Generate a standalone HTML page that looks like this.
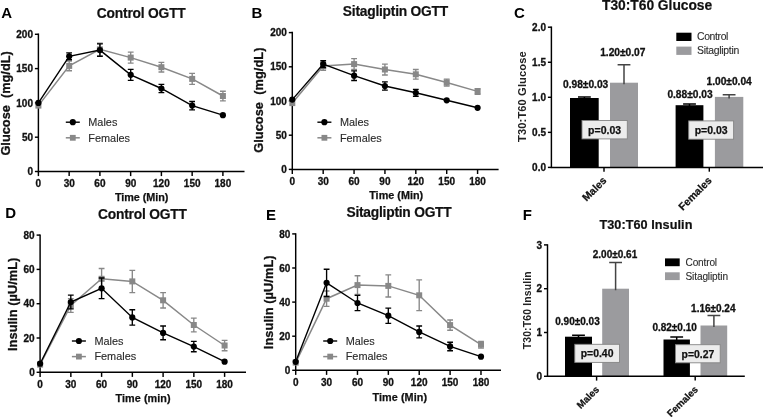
<!DOCTYPE html>
<html><head><meta charset="utf-8"><title>Figure</title>
<style>
html,body{margin:0;padding:0;background:#fff;}
body{width:763px;height:417px;overflow:hidden;}
svg{display:block;will-change:transform;}
text{font-family:"Liberation Sans",sans-serif;fill:#111;}
.tk{font-size:10px;font-weight:bold;stroke:#111;stroke-width:0.3px;}
.xk{font-size:10.2px;font-weight:bold;stroke:#111;stroke-width:0.25px;}
.lg{font-size:10.9px;fill:#2a2a2a;stroke:#2a2a2a;stroke-width:0.12px;}
.lg2{font-size:10.4px;fill:#2a2a2a;stroke:#2a2a2a;stroke-width:0.1px;}
.tt{font-size:13.8px;font-weight:bold;stroke:#111;stroke-width:0.2px;}
.lt{font-size:15px;font-weight:bold;fill:#000;}
.ax{font-size:10.8px;font-weight:bold;stroke:#111;stroke-width:0.25px;}
.ay{font-size:12.8px;font-weight:bold;white-space:pre;stroke:#111;stroke-width:0.3px;}
.ay2{font-size:10.6px;font-weight:bold;fill:#222;}
.vl{font-size:10.2px;font-weight:bold;stroke:#111;stroke-width:0.3px;}
.pv{font-size:10.5px;font-weight:bold;stroke:#111;stroke-width:0.25px;}
</style></head><body>
<svg width="763" height="417" viewBox="0 0 763 417">
<rect width="763" height="417" fill="#fff"/>
<g id="pA"><path d="M38.4 33.58V171.5H244.5" fill="none" stroke="#000" stroke-width="1.45"/>
<line x1="34.9" x2="38.4" y1="171.50" y2="171.50" stroke="#000" stroke-width="1.45"/>
<text x="33.0" y="175.1" text-anchor="end" class="tk">0</text>
<line x1="34.9" x2="38.4" y1="137.20" y2="137.20" stroke="#000" stroke-width="1.45"/>
<text x="33.0" y="140.8" text-anchor="end" class="tk">50</text>
<line x1="34.9" x2="38.4" y1="102.90" y2="102.90" stroke="#000" stroke-width="1.45"/>
<text x="33.0" y="106.5" text-anchor="end" class="tk">100</text>
<line x1="34.9" x2="38.4" y1="68.60" y2="68.60" stroke="#000" stroke-width="1.45"/>
<text x="33.0" y="72.2" text-anchor="end" class="tk">150</text>
<line x1="34.9" x2="38.4" y1="34.30" y2="34.30" stroke="#000" stroke-width="1.45"/>
<text x="33.0" y="37.9" text-anchor="end" class="tk">200</text>
<line x1="38.40" x2="38.40" y1="171.5" y2="176.1" stroke="#000" stroke-width="1.45"/>
<text x="38.4" y="187.2" text-anchor="middle" class="tk">0</text>
<line x1="69.15" x2="69.15" y1="171.5" y2="176.1" stroke="#000" stroke-width="1.45"/>
<text x="69.2" y="187.2" text-anchor="middle" class="tk">30</text>
<line x1="99.90" x2="99.90" y1="171.5" y2="176.1" stroke="#000" stroke-width="1.45"/>
<text x="99.9" y="187.2" text-anchor="middle" class="tk">60</text>
<line x1="130.65" x2="130.65" y1="171.5" y2="176.1" stroke="#000" stroke-width="1.45"/>
<text x="130.7" y="187.2" text-anchor="middle" class="tk">90</text>
<line x1="161.40" x2="161.40" y1="171.5" y2="176.1" stroke="#000" stroke-width="1.45"/>
<text x="161.4" y="187.2" text-anchor="middle" class="tk">120</text>
<line x1="192.15" x2="192.15" y1="171.5" y2="176.1" stroke="#000" stroke-width="1.45"/>
<text x="192.2" y="187.2" text-anchor="middle" class="tk">150</text>
<line x1="222.90" x2="222.90" y1="171.5" y2="176.1" stroke="#000" stroke-width="1.45"/>
<text x="222.9" y="187.2" text-anchor="middle" class="tk">180</text>
<path d="M38.4 105.6 L69.2 65.9 L99.9 49.4 L130.7 57.6 L161.4 67.2 L192.2 78.9 L222.9 96.0" fill="none" stroke="#888888" stroke-width="1.5"/>
<rect x="35.4" y="102.6" width="6" height="6" fill="#888888"/>
<path d="M69.2 61.1V70.7M66.2 61.1h5.8M66.2 70.7h5.8" fill="none" stroke="#888888" stroke-width="1.35"/>
<rect x="66.2" y="62.9" width="6" height="6" fill="#888888"/>
<path d="M99.9 43.2V55.6M97.0 43.2h5.8M97.0 55.6h5.8" fill="none" stroke="#888888" stroke-width="1.35"/>
<rect x="96.9" y="46.4" width="6" height="6" fill="#888888"/>
<path d="M130.7 52.1V63.1M127.8 52.1h5.8M127.8 63.1h5.8" fill="none" stroke="#888888" stroke-width="1.35"/>
<rect x="127.7" y="54.6" width="6" height="6" fill="#888888"/>
<path d="M161.4 62.4V72.0M158.5 62.4h5.8M158.5 72.0h5.8" fill="none" stroke="#888888" stroke-width="1.35"/>
<rect x="158.4" y="64.2" width="6" height="6" fill="#888888"/>
<path d="M192.2 73.4V84.4M189.2 73.4h5.8M189.2 84.4h5.8" fill="none" stroke="#888888" stroke-width="1.35"/>
<rect x="189.2" y="75.9" width="6" height="6" fill="#888888"/>
<path d="M222.9 91.2V100.8M220.0 91.2h5.8M220.0 100.8h5.8" fill="none" stroke="#888888" stroke-width="1.35"/>
<rect x="219.9" y="93.0" width="6" height="6" fill="#888888"/>
<path d="M38.4 102.9 L69.2 56.3 L99.9 50.1 L130.7 74.8 L161.4 88.5 L192.2 105.6 L222.9 115.2" fill="none" stroke="#000" stroke-width="1.4"/>
<circle cx="38.4" cy="102.9" r="3.1" fill="#000"/>
<path d="M69.2 52.8V59.7M66.2 52.8h5.8M66.2 59.7h5.8" fill="none" stroke="#000" stroke-width="1.35"/>
<circle cx="69.2" cy="56.3" r="3.1" fill="#000"/>
<path d="M99.9 43.9V56.3M97.0 43.9h5.8M97.0 56.3h5.8" fill="none" stroke="#000" stroke-width="1.35"/>
<circle cx="99.9" cy="50.1" r="3.1" fill="#000"/>
<path d="M130.7 69.3V80.3M127.8 69.3h5.8M127.8 80.3h5.8" fill="none" stroke="#000" stroke-width="1.35"/>
<circle cx="130.7" cy="74.8" r="3.1" fill="#000"/>
<path d="M161.4 84.4V92.6M158.5 84.4h5.8M158.5 92.6h5.8" fill="none" stroke="#000" stroke-width="1.35"/>
<circle cx="161.4" cy="88.5" r="3.1" fill="#000"/>
<path d="M192.2 101.5V109.8M189.2 101.5h5.8M189.2 109.8h5.8" fill="none" stroke="#000" stroke-width="1.35"/>
<circle cx="192.2" cy="105.6" r="3.1" fill="#000"/>
<circle cx="222.9" cy="115.2" r="3.1" fill="#000"/>
<line x1="65.8" x2="79.8" y1="122.2" y2="122.2" stroke="#000" stroke-width="1.4"/><circle cx="72.8" cy="122.2" r="3.1" fill="#000"/>
<text x="88.3" y="126.0" class="lg">Males</text>
<line x1="65.8" x2="79.8" y1="137.8" y2="137.8" stroke="#888888" stroke-width="1.5"/><rect x="69.89999999999999" y="134.9" width="5.8" height="5.8" fill="#888888"/>
<text x="88.3" y="141.60000000000002" class="lg">Females</text>
<text x="141.3" y="18.2" text-anchor="middle" textLength="89" lengthAdjust="spacing" class="tt">Control OGTT</text>
<text x="1.3" y="18.2" class="lt">A</text>
<text x="141.6" y="200.6" text-anchor="middle" textLength="53.4" lengthAdjust="spacing" class="ax">Time (Min)</text>
<text transform="translate(9.8 103.4) rotate(-90)" text-anchor="middle" textLength="104.4" lengthAdjust="spacing" class="ay" xml:space="preserve">Glucose  (mg/dL)</text></g>
<g id="pB"><path d="M292.3 31.87V169.4H498.6" fill="none" stroke="#000" stroke-width="1.45"/>
<line x1="288.8" x2="292.3" y1="169.40" y2="169.40" stroke="#000" stroke-width="1.45"/>
<text x="286.9" y="173.0" text-anchor="end" class="tk">0</text>
<line x1="288.8" x2="292.3" y1="135.20" y2="135.20" stroke="#000" stroke-width="1.45"/>
<text x="286.9" y="138.8" text-anchor="end" class="tk">50</text>
<line x1="288.8" x2="292.3" y1="101.00" y2="101.00" stroke="#000" stroke-width="1.45"/>
<text x="286.9" y="104.6" text-anchor="end" class="tk">100</text>
<line x1="288.8" x2="292.3" y1="66.80" y2="66.80" stroke="#000" stroke-width="1.45"/>
<text x="286.9" y="70.4" text-anchor="end" class="tk">150</text>
<line x1="288.8" x2="292.3" y1="32.60" y2="32.60" stroke="#000" stroke-width="1.45"/>
<text x="286.9" y="36.2" text-anchor="end" class="tk">200</text>
<line x1="292.30" x2="292.30" y1="169.4" y2="174.0" stroke="#000" stroke-width="1.45"/>
<text x="292.3" y="185.1" text-anchor="middle" class="tk">0</text>
<line x1="323.18" x2="323.18" y1="169.4" y2="174.0" stroke="#000" stroke-width="1.45"/>
<text x="323.2" y="185.1" text-anchor="middle" class="tk">30</text>
<line x1="354.06" x2="354.06" y1="169.4" y2="174.0" stroke="#000" stroke-width="1.45"/>
<text x="354.1" y="185.1" text-anchor="middle" class="tk">60</text>
<line x1="384.94" x2="384.94" y1="169.4" y2="174.0" stroke="#000" stroke-width="1.45"/>
<text x="384.9" y="185.1" text-anchor="middle" class="tk">90</text>
<line x1="415.82" x2="415.82" y1="169.4" y2="174.0" stroke="#000" stroke-width="1.45"/>
<text x="415.8" y="185.1" text-anchor="middle" class="tk">120</text>
<line x1="446.70" x2="446.70" y1="169.4" y2="174.0" stroke="#000" stroke-width="1.45"/>
<text x="446.7" y="185.1" text-anchor="middle" class="tk">150</text>
<line x1="477.58" x2="477.58" y1="169.4" y2="174.0" stroke="#000" stroke-width="1.45"/>
<text x="477.6" y="185.1" text-anchor="middle" class="tk">180</text>
<path d="M292.3 103.1 L323.2 66.1 L354.1 64.1 L384.9 69.5 L415.8 74.3 L446.7 82.5 L477.6 91.4" fill="none" stroke="#888888" stroke-width="1.5"/>
<rect x="289.3" y="100.1" width="6" height="6" fill="#888888"/>
<path d="M323.2 62.0V70.2M320.3 62.0h5.8M320.3 70.2h5.8" fill="none" stroke="#888888" stroke-width="1.35"/>
<rect x="320.2" y="63.1" width="6" height="6" fill="#888888"/>
<path d="M354.1 58.6V69.5M351.2 58.6h5.8M351.2 69.5h5.8" fill="none" stroke="#888888" stroke-width="1.35"/>
<rect x="351.1" y="61.1" width="6" height="6" fill="#888888"/>
<path d="M384.9 64.1V75.0M382.0 64.1h5.8M382.0 75.0h5.8" fill="none" stroke="#888888" stroke-width="1.35"/>
<rect x="381.9" y="66.5" width="6" height="6" fill="#888888"/>
<path d="M415.8 69.5V79.1M412.9 69.5h5.8M412.9 79.1h5.8" fill="none" stroke="#888888" stroke-width="1.35"/>
<rect x="412.8" y="71.3" width="6" height="6" fill="#888888"/>
<path d="M446.7 79.1V86.0M443.8 79.1h5.8M443.8 86.0h5.8" fill="none" stroke="#888888" stroke-width="1.35"/>
<rect x="443.7" y="79.5" width="6" height="6" fill="#888888"/>
<path d="M477.6 88.7V94.2M474.7 88.7h5.8M474.7 94.2h5.8" fill="none" stroke="#888888" stroke-width="1.35"/>
<rect x="474.6" y="88.4" width="6" height="6" fill="#888888"/>
<path d="M292.3 99.6 L323.2 64.1 L354.1 75.7 L384.9 86.0 L415.8 92.8 L446.7 100.3 L477.6 107.8" fill="none" stroke="#000" stroke-width="1.4"/>
<circle cx="292.3" cy="99.6" r="3.1" fill="#000"/>
<path d="M323.2 60.6V67.5M320.3 60.6h5.8M320.3 67.5h5.8" fill="none" stroke="#000" stroke-width="1.35"/>
<circle cx="323.2" cy="64.1" r="3.1" fill="#000"/>
<path d="M354.1 70.9V80.5M351.2 70.9h5.8M351.2 80.5h5.8" fill="none" stroke="#000" stroke-width="1.35"/>
<circle cx="354.1" cy="75.7" r="3.1" fill="#000"/>
<path d="M384.9 81.8V90.1M382.0 81.8h5.8M382.0 90.1h5.8" fill="none" stroke="#000" stroke-width="1.35"/>
<circle cx="384.9" cy="86.0" r="3.1" fill="#000"/>
<path d="M415.8 89.4V96.2M412.9 89.4h5.8M412.9 96.2h5.8" fill="none" stroke="#000" stroke-width="1.35"/>
<circle cx="415.8" cy="92.8" r="3.1" fill="#000"/>
<circle cx="446.7" cy="100.3" r="3.1" fill="#000"/>
<circle cx="477.6" cy="107.8" r="3.1" fill="#000"/>
<line x1="317.4" x2="331.4" y1="122.2" y2="122.2" stroke="#000" stroke-width="1.4"/><circle cx="324.4" cy="122.2" r="3.1" fill="#000"/>
<text x="339.9" y="126.0" class="lg">Males</text>
<line x1="317.4" x2="331.4" y1="137.8" y2="137.8" stroke="#888888" stroke-width="1.5"/><rect x="321.5" y="134.9" width="5.8" height="5.8" fill="#888888"/>
<text x="339.9" y="141.60000000000002" class="lg">Females</text>
<text x="395.5" y="15.8" text-anchor="middle" textLength="105.3" lengthAdjust="spacing" class="tt">Sitagliptin OGTT</text>
<text x="251.5" y="18.3" class="lt">B</text>
<text x="396.2" y="199.4" text-anchor="middle" textLength="54" lengthAdjust="spacing" class="ax">Time (Min)</text>
<text transform="translate(262.7 100.2) rotate(-90)" text-anchor="middle" textLength="105.2" lengthAdjust="spacing" class="ay" xml:space="preserve">Glucose  (mg/dL)</text></g>
<g id="pD"><path d="M40.1 234.38V372.3H246" fill="none" stroke="#000" stroke-width="1.45"/>
<line x1="36.6" x2="40.1" y1="372.30" y2="372.30" stroke="#000" stroke-width="1.45"/>
<text x="34.7" y="375.9" text-anchor="end" class="tk">0</text>
<line x1="36.6" x2="40.1" y1="338.00" y2="338.00" stroke="#000" stroke-width="1.45"/>
<text x="34.7" y="341.6" text-anchor="end" class="tk">20</text>
<line x1="36.6" x2="40.1" y1="303.70" y2="303.70" stroke="#000" stroke-width="1.45"/>
<text x="34.7" y="307.3" text-anchor="end" class="tk">40</text>
<line x1="36.6" x2="40.1" y1="269.40" y2="269.40" stroke="#000" stroke-width="1.45"/>
<text x="34.7" y="273.0" text-anchor="end" class="tk">60</text>
<line x1="36.6" x2="40.1" y1="235.10" y2="235.10" stroke="#000" stroke-width="1.45"/>
<text x="34.7" y="238.7" text-anchor="end" class="tk">80</text>
<line x1="40.10" x2="40.10" y1="372.3" y2="376.90000000000003" stroke="#000" stroke-width="1.45"/>
<text x="40.1" y="388.0" text-anchor="middle" class="tk">0</text>
<line x1="70.85" x2="70.85" y1="372.3" y2="376.90000000000003" stroke="#000" stroke-width="1.45"/>
<text x="70.8" y="388.0" text-anchor="middle" class="tk">30</text>
<line x1="101.60" x2="101.60" y1="372.3" y2="376.90000000000003" stroke="#000" stroke-width="1.45"/>
<text x="101.6" y="388.0" text-anchor="middle" class="tk">60</text>
<line x1="132.35" x2="132.35" y1="372.3" y2="376.90000000000003" stroke="#000" stroke-width="1.45"/>
<text x="132.3" y="388.0" text-anchor="middle" class="tk">90</text>
<line x1="163.10" x2="163.10" y1="372.3" y2="376.90000000000003" stroke="#000" stroke-width="1.45"/>
<text x="163.1" y="388.0" text-anchor="middle" class="tk">120</text>
<line x1="193.85" x2="193.85" y1="372.3" y2="376.90000000000003" stroke="#000" stroke-width="1.45"/>
<text x="193.8" y="388.0" text-anchor="middle" class="tk">150</text>
<line x1="224.60" x2="224.60" y1="372.3" y2="376.90000000000003" stroke="#000" stroke-width="1.45"/>
<text x="224.6" y="388.0" text-anchor="middle" class="tk">180</text>
<path d="M40.1 364.6 L70.8 305.4 L101.6 278.8 L132.3 281.4 L163.1 300.3 L193.8 325.0 L224.6 345.5" fill="none" stroke="#888888" stroke-width="1.5"/>
<rect x="37.1" y="361.6" width="6" height="6" fill="#888888"/>
<path d="M70.8 298.6V312.3M67.9 298.6h5.8M67.9 312.3h5.8" fill="none" stroke="#888888" stroke-width="1.35"/>
<rect x="67.8" y="302.4" width="6" height="6" fill="#888888"/>
<path d="M101.6 268.5V289.1M98.7 268.5h5.8M98.7 289.1h5.8" fill="none" stroke="#888888" stroke-width="1.35"/>
<rect x="98.6" y="275.8" width="6" height="6" fill="#888888"/>
<path d="M132.3 270.3V292.6M129.4 270.3h5.8M129.4 292.6h5.8" fill="none" stroke="#888888" stroke-width="1.35"/>
<rect x="129.3" y="278.4" width="6" height="6" fill="#888888"/>
<path d="M163.1 292.6V308.0M160.2 292.6h5.8M160.2 308.0h5.8" fill="none" stroke="#888888" stroke-width="1.35"/>
<rect x="160.1" y="297.3" width="6" height="6" fill="#888888"/>
<path d="M193.8 318.1V331.8M190.9 318.1h5.8M190.9 331.8h5.8" fill="none" stroke="#888888" stroke-width="1.35"/>
<rect x="190.8" y="322.0" width="6" height="6" fill="#888888"/>
<path d="M224.6 340.4V350.7M221.7 340.4h5.8M221.7 350.7h5.8" fill="none" stroke="#888888" stroke-width="1.35"/>
<rect x="221.6" y="342.5" width="6" height="6" fill="#888888"/>
<path d="M40.1 363.7 L70.8 302.0 L101.6 288.3 L132.3 317.4 L163.1 332.9 L193.8 346.6 L224.6 361.7" fill="none" stroke="#000" stroke-width="1.4"/>
<circle cx="40.1" cy="363.7" r="3.1" fill="#000"/>
<path d="M70.8 295.1V308.8M67.9 295.1h5.8M67.9 308.8h5.8" fill="none" stroke="#000" stroke-width="1.35"/>
<circle cx="70.8" cy="302.0" r="3.1" fill="#000"/>
<path d="M101.6 278.0V298.6M98.7 278.0h5.8M98.7 298.6h5.8" fill="none" stroke="#000" stroke-width="1.35"/>
<circle cx="101.6" cy="288.3" r="3.1" fill="#000"/>
<path d="M132.3 309.7V325.1M129.4 309.7h5.8M129.4 325.1h5.8" fill="none" stroke="#000" stroke-width="1.35"/>
<circle cx="132.3" cy="317.4" r="3.1" fill="#000"/>
<path d="M163.1 326.0V339.7M160.2 326.0h5.8M160.2 339.7h5.8" fill="none" stroke="#000" stroke-width="1.35"/>
<circle cx="163.1" cy="332.9" r="3.1" fill="#000"/>
<path d="M193.8 341.4V351.7M190.9 341.4h5.8M190.9 351.7h5.8" fill="none" stroke="#000" stroke-width="1.35"/>
<circle cx="193.8" cy="346.6" r="3.1" fill="#000"/>
<circle cx="224.6" cy="361.7" r="3.1" fill="#000"/>
<line x1="71.9" x2="85.9" y1="341" y2="341" stroke="#000" stroke-width="1.4"/><circle cx="78.9" cy="341" r="3.1" fill="#000"/>
<text x="94.4" y="344.8" class="lg">Males</text>
<line x1="71.9" x2="85.9" y1="356.6" y2="356.6" stroke="#888888" stroke-width="1.5"/><rect x="76.0" y="353.70000000000005" width="5.8" height="5.8" fill="#888888"/>
<text x="94.4" y="360.40000000000003" class="lg">Females</text>
<text x="142.5" y="218.5" text-anchor="middle" textLength="89" lengthAdjust="spacing" class="tt">Control OGTT</text>
<text x="5.2" y="218.2" class="lt">D</text>
<text x="143.1" y="402" text-anchor="middle" textLength="55" lengthAdjust="spacing" class="ax">Time (min)</text>
<text transform="translate(16.5 304.3) rotate(-90)" text-anchor="middle" textLength="93.4" lengthAdjust="spacing" class="ay" xml:space="preserve">Insulin (µU/mL)</text></g>
<g id="pE"><path d="M295.7 233.18V370.3H501" fill="none" stroke="#000" stroke-width="1.45"/>
<line x1="292.2" x2="295.7" y1="370.30" y2="370.30" stroke="#000" stroke-width="1.45"/>
<text x="290.3" y="373.9" text-anchor="end" class="tk">0</text>
<line x1="292.2" x2="295.7" y1="336.20" y2="336.20" stroke="#000" stroke-width="1.45"/>
<text x="290.3" y="339.8" text-anchor="end" class="tk">20</text>
<line x1="292.2" x2="295.7" y1="302.10" y2="302.10" stroke="#000" stroke-width="1.45"/>
<text x="290.3" y="305.7" text-anchor="end" class="tk">40</text>
<line x1="292.2" x2="295.7" y1="268.00" y2="268.00" stroke="#000" stroke-width="1.45"/>
<text x="290.3" y="271.6" text-anchor="end" class="tk">60</text>
<line x1="292.2" x2="295.7" y1="233.90" y2="233.90" stroke="#000" stroke-width="1.45"/>
<text x="290.3" y="237.5" text-anchor="end" class="tk">80</text>
<line x1="295.70" x2="295.70" y1="370.3" y2="374.90000000000003" stroke="#000" stroke-width="1.45"/>
<text x="295.7" y="386.0" text-anchor="middle" class="tk">0</text>
<line x1="326.58" x2="326.58" y1="370.3" y2="374.90000000000003" stroke="#000" stroke-width="1.45"/>
<text x="326.6" y="386.0" text-anchor="middle" class="tk">30</text>
<line x1="357.46" x2="357.46" y1="370.3" y2="374.90000000000003" stroke="#000" stroke-width="1.45"/>
<text x="357.5" y="386.0" text-anchor="middle" class="tk">60</text>
<line x1="388.34" x2="388.34" y1="370.3" y2="374.90000000000003" stroke="#000" stroke-width="1.45"/>
<text x="388.3" y="386.0" text-anchor="middle" class="tk">90</text>
<line x1="419.22" x2="419.22" y1="370.3" y2="374.90000000000003" stroke="#000" stroke-width="1.45"/>
<text x="419.2" y="386.0" text-anchor="middle" class="tk">120</text>
<line x1="450.10" x2="450.10" y1="370.3" y2="374.90000000000003" stroke="#000" stroke-width="1.45"/>
<text x="450.1" y="386.0" text-anchor="middle" class="tk">150</text>
<line x1="480.98" x2="480.98" y1="370.3" y2="374.90000000000003" stroke="#000" stroke-width="1.45"/>
<text x="481.0" y="386.0" text-anchor="middle" class="tk">180</text>
<path d="M295.7 362.6 L326.6 298.7 L357.5 285.1 L388.3 285.9 L419.2 295.3 L450.1 325.1 L481.0 344.7" fill="none" stroke="#888888" stroke-width="1.5"/>
<rect x="292.7" y="359.6" width="6" height="6" fill="#888888"/>
<path d="M326.6 291.0V306.4M323.7 291.0h5.8M323.7 306.4h5.8" fill="none" stroke="#888888" stroke-width="1.35"/>
<rect x="323.6" y="295.7" width="6" height="6" fill="#888888"/>
<path d="M357.5 275.7V294.4M354.6 275.7h5.8M354.6 294.4h5.8" fill="none" stroke="#888888" stroke-width="1.35"/>
<rect x="354.5" y="282.1" width="6" height="6" fill="#888888"/>
<path d="M388.3 274.8V297.0M385.4 274.8h5.8M385.4 297.0h5.8" fill="none" stroke="#888888" stroke-width="1.35"/>
<rect x="385.3" y="282.9" width="6" height="6" fill="#888888"/>
<path d="M419.2 279.9V310.6M416.3 279.9h5.8M416.3 310.6h5.8" fill="none" stroke="#888888" stroke-width="1.35"/>
<rect x="416.2" y="292.3" width="6" height="6" fill="#888888"/>
<path d="M450.1 320.0V330.2M447.2 320.0h5.8M447.2 330.2h5.8" fill="none" stroke="#888888" stroke-width="1.35"/>
<rect x="447.1" y="322.1" width="6" height="6" fill="#888888"/>
<path d="M481.0 341.3V348.1M478.1 341.3h5.8M478.1 348.1h5.8" fill="none" stroke="#888888" stroke-width="1.35"/>
<rect x="478.0" y="341.7" width="6" height="6" fill="#888888"/>
<path d="M295.7 361.8 L326.6 282.8 L357.5 303.0 L388.3 315.7 L419.2 331.9 L450.1 346.4 L481.0 356.7" fill="none" stroke="#000" stroke-width="1.4"/>
<circle cx="295.7" cy="361.8" r="3.1" fill="#000"/>
<path d="M326.6 269.2V296.5M323.7 269.2h5.8M323.7 296.5h5.8" fill="none" stroke="#000" stroke-width="1.35"/>
<circle cx="326.6" cy="282.8" r="3.1" fill="#000"/>
<path d="M357.5 295.3V310.6M354.6 295.3h5.8M354.6 310.6h5.8" fill="none" stroke="#000" stroke-width="1.35"/>
<circle cx="357.5" cy="303.0" r="3.1" fill="#000"/>
<path d="M388.3 308.1V323.4M385.4 308.1h5.8M385.4 323.4h5.8" fill="none" stroke="#000" stroke-width="1.35"/>
<circle cx="388.3" cy="315.7" r="3.1" fill="#000"/>
<path d="M419.2 326.0V337.9M416.3 326.0h5.8M416.3 337.9h5.8" fill="none" stroke="#000" stroke-width="1.35"/>
<circle cx="419.2" cy="331.9" r="3.1" fill="#000"/>
<path d="M450.1 342.2V350.7M447.2 342.2h5.8M447.2 350.7h5.8" fill="none" stroke="#000" stroke-width="1.35"/>
<circle cx="450.1" cy="346.4" r="3.1" fill="#000"/>
<circle cx="481.0" cy="356.7" r="3.1" fill="#000"/>
<line x1="323.2" x2="337.2" y1="341" y2="341" stroke="#000" stroke-width="1.4"/><circle cx="330.2" cy="341" r="3.1" fill="#000"/>
<text x="345.7" y="344.8" class="lg">Males</text>
<line x1="323.2" x2="337.2" y1="356.6" y2="356.6" stroke="#888888" stroke-width="1.5"/><rect x="327.3" y="353.70000000000005" width="5.8" height="5.8" fill="#888888"/>
<text x="345.7" y="360.40000000000003" class="lg">Females</text>
<text x="399.1" y="217.2" text-anchor="middle" textLength="105.3" lengthAdjust="spacing" class="tt">Sitagliptin OGTT</text>
<text x="266" y="219.5" class="lt">E</text>
<text x="399.8" y="400.8" text-anchor="middle" textLength="54.5" lengthAdjust="spacing" class="ax">Time (Min)</text>
<text transform="translate(273 302.3) rotate(-90)" text-anchor="middle" textLength="93.7" lengthAdjust="spacing" class="ay" xml:space="preserve">Insulin (µU/mL)</text></g>
<g id="pC"><rect x="570" y="98.0" width="28.7" height="69.4" fill="#000"/>
<path d="M584.4 99.5V96.9M578.0 96.9h12.8" fill="none" stroke="#000" stroke-width="1.5"/>
<rect x="610" y="82.7" width="28.0" height="84.7" fill="#9b9b9e"/>
<path d="M624.0 84.2V64.8M617.6 64.8h12.8" fill="none" stroke="#444" stroke-width="1.5"/>
<rect x="675.6" y="105.2" width="27.8" height="62.2" fill="#000"/>
<path d="M689.5 106.7V104.1M683.1 104.1h12.8" fill="none" stroke="#000" stroke-width="1.5"/>
<rect x="714.9" y="96.9" width="28.4" height="70.5" fill="#9b9b9e"/>
<path d="M729.1 98.4V94.8M722.7 94.8h12.8" fill="none" stroke="#444" stroke-width="1.5"/>
<path d="M551.4 26.48V167.4H763" fill="none" stroke="#000" stroke-width="1.45"/>
<line x1="547.9" x2="551.4" y1="167.40" y2="167.40" stroke="#000" stroke-width="1.45"/>
<text x="546.0" y="171.0" text-anchor="end" class="tk">0.0</text>
<line x1="547.9" x2="551.4" y1="132.35" y2="132.35" stroke="#000" stroke-width="1.45"/>
<text x="546.0" y="136.0" text-anchor="end" class="tk">0.5</text>
<line x1="547.9" x2="551.4" y1="97.30" y2="97.30" stroke="#000" stroke-width="1.45"/>
<text x="546.0" y="100.9" text-anchor="end" class="tk">1.0</text>
<line x1="547.9" x2="551.4" y1="62.25" y2="62.25" stroke="#000" stroke-width="1.45"/>
<text x="546.0" y="65.9" text-anchor="end" class="tk">1.5</text>
<line x1="547.9" x2="551.4" y1="27.20" y2="27.20" stroke="#000" stroke-width="1.45"/>
<text x="546.0" y="30.8" text-anchor="end" class="tk">2.0</text>
<line x1="604" x2="604" y1="167.4" y2="171.70000000000002" stroke="#000" stroke-width="1.45"/>
<text transform="translate(607.2 181.20000000000002) rotate(-45)" text-anchor="end" class="xk" style="font-size:10.5px">Males</text>
<line x1="709.3" x2="709.3" y1="167.4" y2="171.70000000000002" stroke="#000" stroke-width="1.45"/>
<text transform="translate(712.5 181.20000000000002) rotate(-45)" text-anchor="end" class="xk" style="font-size:10.5px">Females</text>
<text x="622.8" y="55.9" text-anchor="middle" class="vl">1.20±0.07</text>
<text x="585.6" y="87.5" text-anchor="middle" class="vl">0.98±0.03</text>
<text x="690" y="97.6" text-anchor="middle" class="vl">0.88±0.03</text>
<text x="729.1" y="84.7" text-anchor="middle" class="vl">1.00±0.04</text>
<rect x="582" y="120.5" width="45.3" height="18.4" fill="#ececec" stroke="#858585" stroke-width="0.9"/>
<text x="604.6" y="133.5" text-anchor="middle" class="pv">p=0.03</text>
<rect x="688.7" y="120.9" width="44.9" height="18.3" fill="#ececec" stroke="#858585" stroke-width="0.9"/>
<text x="711.2" y="133.9" text-anchor="middle" class="pv">p=0.03</text>
<rect x="676.3" y="32.7" width="15.2" height="8.3" fill="#000"/>
<text x="697" y="40.2" textLength="31.4" lengthAdjust="spacing" class="lg2">Control</text>
<rect x="676.3" y="46.6" width="15.2" height="8.3" fill="#9b9b9e"/>
<text x="697" y="54.1" textLength="42.3" lengthAdjust="spacing" class="lg2">Sitagliptin</text>
<text x="657.1" y="10.2" text-anchor="middle" textLength="110.2" lengthAdjust="spacing" class="tt">T30:T60 Glucose</text>
<text x="513.9" y="18.3" class="lt">C</text>
<text transform="translate(525.7 96.6) rotate(-90)" text-anchor="middle" textLength="90.8" lengthAdjust="spacing" class="ay2" style="font-size:11.2px">T30:T60 Glucose</text></g>
<g id="pF"><rect x="565" y="336.7" width="27.0" height="39.6" fill="#000"/>
<path d="M578.5 338.2V335.3M572.1 335.3h12.8" fill="none" stroke="#000" stroke-width="1.5"/>
<rect x="602.2" y="288.7" width="26.8" height="87.6" fill="#9b9b9e"/>
<path d="M615.6 290.2V262.4M609.2 262.4h12.8" fill="none" stroke="#444" stroke-width="1.5"/>
<rect x="663.5" y="339.5" width="26.4" height="36.8" fill="#000"/>
<path d="M676.7 341.0V336.9M670.3 336.9h12.8" fill="none" stroke="#000" stroke-width="1.5"/>
<rect x="700.5" y="325.5" width="26.7" height="50.8" fill="#9b9b9e"/>
<path d="M713.9 327.0V315.4M707.5 315.4h12.8" fill="none" stroke="#444" stroke-width="1.5"/>
<path d="M547.5 244.18V376.3H744.8" fill="none" stroke="#000" stroke-width="1.45"/>
<line x1="544.0" x2="547.5" y1="376.30" y2="376.30" stroke="#000" stroke-width="1.45"/>
<text x="542.1" y="379.9" text-anchor="end" class="tk">0</text>
<line x1="544.0" x2="547.5" y1="332.50" y2="332.50" stroke="#000" stroke-width="1.45"/>
<text x="542.1" y="336.1" text-anchor="end" class="tk">1</text>
<line x1="544.0" x2="547.5" y1="288.70" y2="288.70" stroke="#000" stroke-width="1.45"/>
<text x="542.1" y="292.3" text-anchor="end" class="tk">2</text>
<line x1="544.0" x2="547.5" y1="244.90" y2="244.90" stroke="#000" stroke-width="1.45"/>
<text x="542.1" y="248.5" text-anchor="end" class="tk">3</text>
<line x1="596.6" x2="596.6" y1="376.3" y2="380.6" stroke="#000" stroke-width="1.45"/>
<text transform="translate(599.9 390.1) rotate(-45)" text-anchor="end" class="xk" style="font-size:9.7px">Males</text>
<line x1="695.2" x2="695.2" y1="376.3" y2="380.6" stroke="#000" stroke-width="1.45"/>
<text transform="translate(698.5 390.1) rotate(-45)" text-anchor="end" class="xk" style="font-size:9.7px">Females</text>
<text x="615" y="258" text-anchor="middle" class="vl" style="font-size:10.0px">2.00±0.61</text>
<text x="577.5" y="325" text-anchor="middle" class="vl" style="font-size:10.0px">0.90±0.03</text>
<text x="674.6" y="331" text-anchor="middle" class="vl" style="font-size:10.0px">0.82±0.10</text>
<text x="713.3" y="312.2" text-anchor="middle" class="vl" style="font-size:10.0px">1.16±0.24</text>
<rect x="574.8" y="344.3" width="44.7" height="18.1" fill="#ececec" stroke="#858585" stroke-width="0.9"/>
<text x="597.1" y="357.2" text-anchor="middle" class="pv" style="font-size:10.4px">p=0.40</text>
<rect x="675.5" y="344.7" width="44.7" height="18.1" fill="#ececec" stroke="#858585" stroke-width="0.9"/>
<text x="697.9" y="357.6" text-anchor="middle" class="pv" style="font-size:10.4px">p=0.27</text>
<rect x="665" y="258.4" width="14.7" height="7.8" fill="#000"/>
<text x="685.5" y="265.7" textLength="31.6" lengthAdjust="spacing" class="lg2" style="font-size:10.1px">Control</text>
<rect x="665" y="272.29999999999995" width="14.7" height="7.8" fill="#9b9b9e"/>
<text x="685.5" y="279.6" textLength="42.5" lengthAdjust="spacing" class="lg2" style="font-size:10.1px">Sitagliptin</text>
<text x="645.9" y="229.3" text-anchor="middle" textLength="93" lengthAdjust="spacing" class="tt" style="font-size:12.7px">T30:T60 Insulin</text>
<text x="522.8" y="219.6" class="lt">F</text>
<text transform="translate(530.5 310.3) rotate(-90)" text-anchor="middle" textLength="78" lengthAdjust="spacing" class="ay2" style="font-size:10.4px">T30:T60 Insulin</text></g>
</svg>
</body></html>
